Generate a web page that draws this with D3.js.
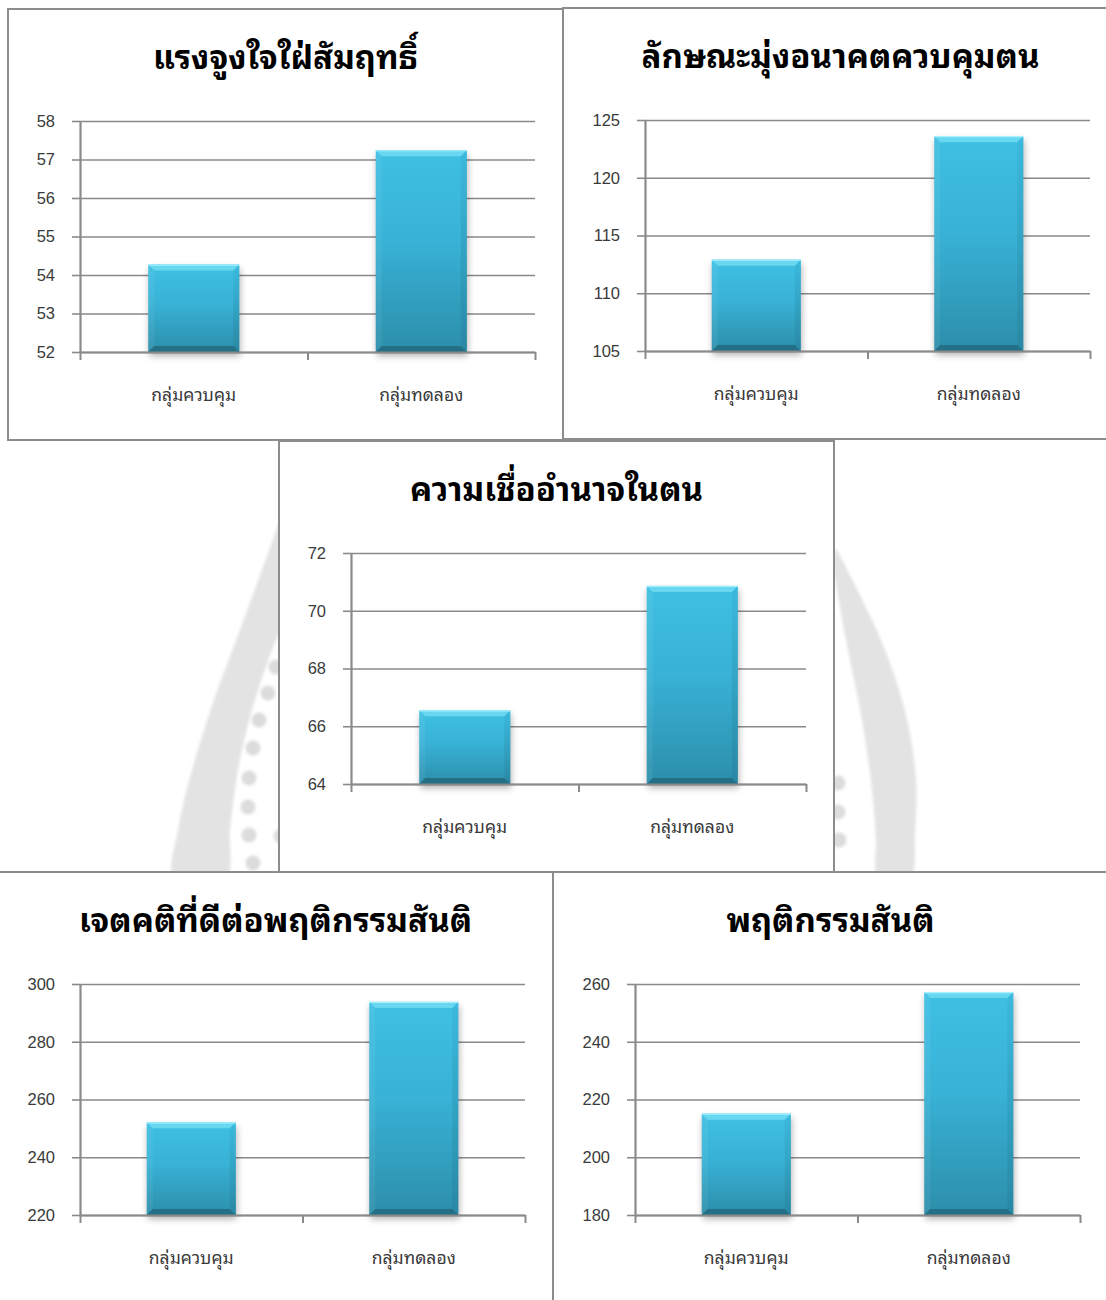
<!DOCTYPE html>
<html>
<head>
<meta charset="utf-8">
<script src="https://cdn.jsdelivr.net/npm/d3@7"></script>
<style>
  html, body { margin: 0; padding: 0; background: #ffffff; }
  svg { display: block; }
  .tick-label { font-family: "Liberation Sans", Arial, sans-serif; font-size: 16.5px; fill: #3a3a3a; }
  .cat-label { font-family: "Noto Sans Thai Looped", "Loma", "Garuda", "Sawasdee", "Norasi", "Noto Serif Thai", "Noto Sans Thai", sans-serif; font-size: 17.5px; fill: #3a3a3a; }
  .title { font-family: "Noto Sans Thai Looped", "Loma", "Garuda", "Sawasdee", "Norasi", "Noto Serif Thai", "Noto Sans Thai", sans-serif; font-size: 33px; font-weight: bold; fill: #000000; }
</style>
</head>
<body>
<svg id="chart" width="1106" height="1300"></svg>
<script>
// ---- data -------------------------------------------------------------
const categories = ["กลุ่มควบคุม", "กลุ่มทดลอง"];

const chartTitles = [
  "แรงจูงใจใฝ่สัมฤทธิ์",
  "ลักษณะมุ่งอนาคตควบคุมตน",
  "ความเชื่ออำนาจในตน",
  "เจตคติที่ดีต่อพฤติกรรมสันติ",
  "พฤติกรรมสันติ"
];

// mean scores, one entry per chart
const controlGroup    = [54.27, 112.9, 66.55, 252.1, 215.1];
const experimentGroup = [57.24, 123.6, 70.86, 293.8, 257.2];

// y-axis tick labels per chart (first = axis minimum, last = axis maximum)
const yTicks = [
  [52, 53, 54, 55, 56, 57, 58],
  [105, 110, 115, 120, 125],
  [64, 66, 68, 70, 72],
  [220, 240, 260, 280, 300],
  [180, 200, 220, 240, 260]
];

// ---- layout -----------------------------------------------------------
const FRAME_W = 555, FRAME_H = 431;
const panels = [
  { x: 8,   y: 9,   left: 72 },
  { x: 563, y: 8,   left: 82 },
  { x: 279, y: 441, left: 72 },
  { x: -2,  y: 872, left: 82 },
  { x: 553, y: 872, left: 82 }
];
const PLOT_RIGHT = 527, PLOT_TOP = 112, PLOT_BOTTOM = 343;

const svg = d3.select("#chart");
const defs = svg.append("defs");

// bar body gradient
const body = defs.append("linearGradient").attr("id", "barBody")
  .attr("x1", 0).attr("y1", 0).attr("x2", 0).attr("y2", 1);
body.append("stop").attr("offset", "0%").attr("stop-color", "#3fc0e3");
body.append("stop").attr("offset", "45%").attr("stop-color", "#38b2d6");
body.append("stop").attr("offset", "100%").attr("stop-color", "#2c8eaa");

const side = defs.append("linearGradient").attr("id", "barSide")
  .attr("x1", 0).attr("y1", 0).attr("x2", 0).attr("y2", 1);
side.append("stop").attr("offset", "0%").attr("stop-color", "#3ab6da");
side.append("stop").attr("offset", "100%").attr("stop-color", "#2784a0");

const shadow = defs.append("filter").attr("id", "barShadow")
  .attr("x", "-20%").attr("y", "-10%").attr("width", "140%").attr("height", "130%");
shadow.append("feGaussianBlur").attr("stdDeviation", 3.5);

const haze = defs.append("filter").attr("id", "haze")
  .attr("x", "-20%").attr("y", "-20%").attr("width", "140%").attr("height", "140%");
haze.append("feGaussianBlur").attr("stdDeviation", 1.5);

// ---- background emblem ------------------------------------------------
const bg = svg.append("g").attr("filter", "url(#haze)");
const smooth = d3.line().curve(d3.curveCatmullRom.alpha(0.5));
const leftBand = [[280,520],[262,570],[240,630],[214,700],[192,770],[178,830],[174,878],
                  [226,878],[230,830],[238,770],[252,710],[272,650],[292,600],[292,520]];
const rightBand = [[832,560],[846,640],[862,720],[872,790],[876,840],[878,878],
                   [910,878],[915,830],[916,780],[906,715],[885,650],[860,595],[836,548]];
bg.append("path").attr("d", smooth(leftBand) + "Z").attr("fill", "#e3e3e3");
bg.append("path").attr("d", smooth(rightBand) + "Z").attr("fill", "#e3e3e3");
const dots = [[276,667],[268,693],[259,720],[253,748],[249,778],[248,807],[249,835],[253,863],
              [281,836],[838,783],[838,812],[839,840]];
bg.selectAll("circle").data(dots).join("circle")
  .attr("cx", d => d[0]).attr("cy", d => d[1]).attr("r", 7.5).attr("fill", "#dcdcdc");

// ---- one bevelled bar -------------------------------------------------
function bevelBar(g, x, y, w, h) {
  const b = Math.min(6, h / 3);
  g.append("rect").attr("x", x + 1).attr("y", y + 4).attr("width", w).attr("height", h)
    .attr("fill", "#000").attr("opacity", 0.3).attr("filter", "url(#barShadow)");
  g.append("rect").attr("x", x).attr("y", y).attr("width", w).attr("height", h)
    .attr("fill", "url(#barBody)");
  // left / right faces
  g.append("path").attr("d", `M${x},${y}L${x + b},${y + b}L${x + b},${y + h - b}L${x},${y + h}Z`)
    .attr("fill", "#ffffff").attr("opacity", 0.06);
  g.append("path").attr("d", `M${x + w},${y}L${x + w - b},${y + b}L${x + w - b},${y + h - b}L${x + w},${y + h}Z`)
    .attr("fill", "url(#barSide)").attr("opacity", 0.7);
  // top face
  g.append("path").attr("d", `M${x},${y}L${x + w},${y}L${x + w - b},${y + b}L${x + b},${y + b}Z`)
    .attr("fill", "#6ad7f1");
  g.append("line").attr("x1", x).attr("x2", x + w).attr("y1", y + 0.5).attr("y2", y + 0.5)
    .attr("stroke", "#a6f1ff").attr("stroke-width", 1.2);
  // bottom face
  g.append("path").attr("d", `M${x},${y + h}L${x + w},${y + h}L${x + w - b},${y + h - b}L${x + b},${y + h - b}Z`)
    .attr("fill", "#236f86");
}

// ---- charts -----------------------------------------------------------
panels.forEach((p, i) => {
  const g = svg.append("g").attr("transform", `translate(${p.x},${p.y})`);
  g.append("rect").attr("x", 0).attr("y", 0).attr("width", FRAME_W).attr("height", FRAME_H)
    .attr("fill", "#ffffff").attr("stroke", "#8c8c8c").attr("stroke-width", 2);

  const ticks = yTicks[i];
  const y = d3.scaleLinear().domain([ticks[0], ticks[ticks.length - 1]])
    .range([PLOT_BOTTOM, PLOT_TOP]);
  const x = d3.scaleBand().domain(categories).range([p.left, PLOT_RIGHT])
    .paddingInner(0.6).paddingOuter(0.3);
  const xEdge = d3.scaleLinear().domain([0, categories.length]).range([p.left, PLOT_RIGHT]);

  g.append("text").attr("class", "title")
    .attr("x", FRAME_W / 2).attr("y", 60).attr("text-anchor", "middle")
    .text(chartTitles[i]);

  // gridlines
  g.append("g").attr("transform", `translate(${p.left},0)`)
    .call(d3.axisLeft(y).tickValues(ticks).tickSize(-(PLOT_RIGHT - p.left)).tickFormat(""))
    .call(a => a.select(".domain").remove())
    .call(a => a.selectAll("line").attr("stroke", "#8a8a8a").attr("stroke-width", 1.6));

  // y axis: outward ticks and labels
  g.append("g").attr("transform", `translate(${p.left},0)`)
    .call(d3.axisLeft(y).tickValues(ticks).tickFormat(d3.format("d"))
      .tickSize(8).tickSizeOuter(0).tickPadding(17))
    .call(a => a.select(".domain").attr("stroke", "#8a8a8a").attr("stroke-width", 2.2))
    .call(a => a.selectAll("line").attr("stroke", "#8a8a8a").attr("stroke-width", 1.6))
    .call(a => a.selectAll("text").attr("class", "tick-label").attr("fill", null))
    .attr("font-family", null).attr("font-size", null);

  // bars
  const bars = g.append("g");
  const vals = [controlGroup[i], experimentGroup[i]];
  categories.forEach((c, k) => {
    const top = y(vals[k]);
    bevelBar(bars, x(c), top, x.bandwidth(), y(ticks[0]) - top);
  });

  // x axis: boundary ticks
  g.append("g").attr("transform", `translate(0,${PLOT_BOTTOM})`)
    .call(d3.axisBottom(xEdge).tickValues(d3.range(categories.length + 1)).tickSize(8)
      .tickSizeOuter(0).tickFormat(""))
    .call(a => a.select(".domain").attr("stroke", "#8a8a8a").attr("stroke-width", 2))
    .call(a => a.selectAll("line").attr("stroke", "#8a8a8a").attr("stroke-width", 2));

  // category labels
  g.append("g").attr("transform", `translate(0,${PLOT_BOTTOM})`)
    .call(d3.axisBottom(x).tickSize(0).tickPadding(37))
    .call(a => a.select(".domain").remove())
    .call(a => a.selectAll("text").attr("class", "cat-label").attr("fill", null))
    .attr("font-family", null).attr("font-size", null);
});
</script>
</body>
</html>
